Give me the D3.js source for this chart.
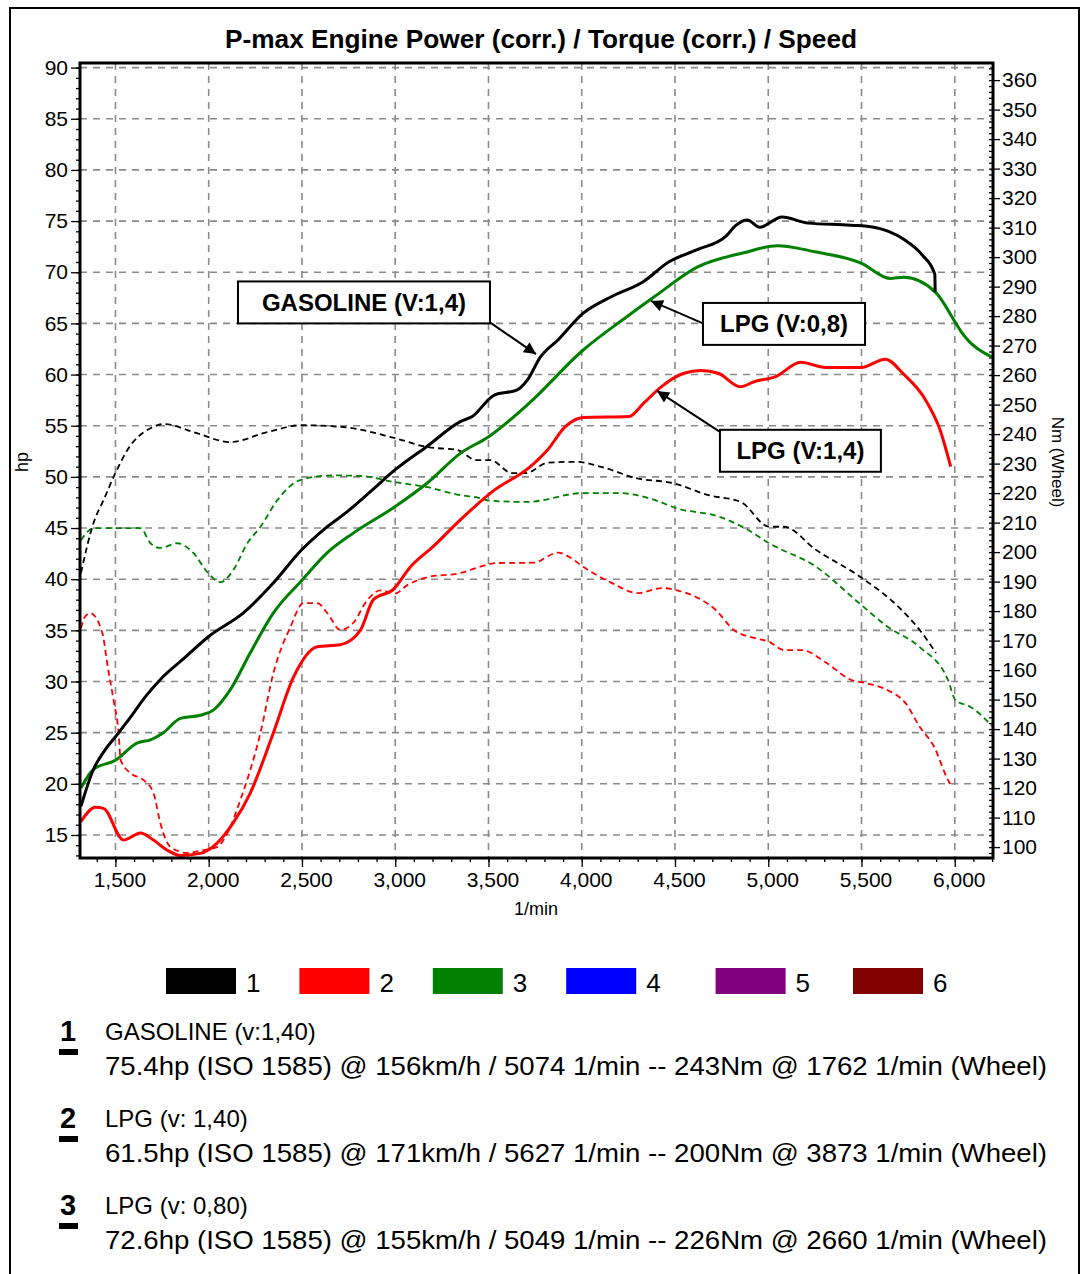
<!DOCTYPE html>
<html>
<head>
<meta charset="utf-8">
<script src="https://cdn.jsdelivr.net/npm/d3@7"></script>
<style>
  body { margin: 0; background: #fff; }
  svg { display: block; font-family: "Liberation Sans Narrow", "Arial Narrow", "Liberation Sans", Arial, sans-serif; }
</style>
</head>
<body>
<svg id="chart" width="1082" height="1274"></svg>
<script>
// Data: [rpm, value]
const gasolinePower = [[1315,17.8],[1382,21.4],[1440,23.2],[1500,24.6],[1580,26.5],[1660,28.5],[1741,30.2],[1870,32.3],[2000,34.4],[2186,36.7],[2340,39.5],[2500,42.9],[2620,44.9],[2743,46.6],[2870,48.6],[3000,50.7],[3172,53],[3349,55.4],[3413,55.9],[3531,58.0],[3654,58.5],[3710,59.5],[3778,61.7],[3874,63.4],[4008,66],[4158,67.6],[4332,69.1],[4466,71],[4619,72.2],[4772,73.5],[4828,74.6],[4887,75.1],[4955,74.4],[5074,75.4],[5214,74.8],[5442,74.6],[5566,74.4],[5728,73.2],[5825,71.7],[5893,69.8],[5895,68.1]];
const lpg14Power = [[1315,16.3],[1393,17.7],[1436,17.6],[1543,14.5],[1634,15.2],[1704,14.5],[1779,13.5],[1848,13],[1955,13.2],[2045,14.2],[2132,16.2],[2223,19.1],[2347,25],[2454,30.4],[2582,33.4],[2706,33.6],[2813,35],[2883,38],[2990,39],[3081,41.2],[3204,43.2],[3349,45.8],[3531,48.7],[3718,50.9],[3815,52.6],[3912,54.9],[4008,55.8],[4254,55.9],[4332,57.2],[4426,58.8],[4544,60.1],[4640,60.4],[4735,60.1],[4849,58.8],[4924,59.3],[5040,59.8],[5174,61.2],[5308,60.7],[5498,60.7],[5627,61.5],[5728,60],[5844,57.5],[5921,54.6],[5978,51]];
const lpg08Power = [[1315,19.6],[1382,21.4],[1500,22.3],[1618,24],[1688,24.3],[1757,25],[1848,26.4],[1955,26.7],[2025,27.2],[2116,29.2],[2223,32.8],[2347,36.7],[2500,39.9],[2636,42.6],[2775,44.5],[3000,47.1],[3172,49.4],[3349,52.3],[3499,53.9],[3718,57.2],[4008,62.4],[4238,65.6],[4389,67.6],[4619,70.5],[4868,71.9],[5049,72.6],[5251,72],[5498,70.9],[5653,69.4],[5728,69.5],[5899,68],[5996,65.3],[6034,64.2],[6200,61.7]];

const gasolineTorque = [[1315,192.9],[1382,209.8],[1436,217.6],[1500,226.8],[1564,234.6],[1688,242],[1762,243.4],[1918,240.7],[2116,237.3],[2314,240.7],[2500,243],[2721,242.4],[3000,238.6],[3172,235.6],[3333,234.6],[3434,231.2],[3510,231.2],[3626,226.8],[3703,226.8],[3816,230.3],[3971,230.6],[4104,228.9],[4298,225],[4489,223.4],[4680,219.3],[4853,217],[5005,208.6],[5083,208.6],[5257,200.7],[5503,191.2],[5697,181.5],[5812,173.6],[5899,165.8]];
const lpg14Torque = [[1315,174.2],[1336,178],[1365,179.3],[1430,172.5],[1459,161],[1490,149.8],[1517,138.6],[1528,129.5],[1582,125],[1651,122.7],[1704,118.3],[1741,108.1],[1795,100],[1886,98],[1972,99],[2045,100],[2100,104.7],[2170,116],[2277,138.6],[2347,159],[2438,174.6],[2508,182.7],[2582,182.7],[2636,179.3],[2706,173.6],[2775,176],[2850,183.7],[2920,187],[3000,186],[3065,188.8],[3172,191.5],[3349,192.9],[3434,194.6],[3547,196.3],[3740,196.4],[3873,199.8],[3932,198.4],[4008,195],[4163,189.5],[4298,186.1],[4432,187.8],[4506,187.1],[4625,184.4],[4720,180.3],[4815,173.6],[4930,170.8],[5005,169.6],[5083,166.8],[5179,166.8],[5313,162.4],[5447,156.6],[5523,155.6],[5640,153.2],[5736,148.8],[5812,140.8],[5889,134],[5964,122.7],[5985,120.4]];
const lpg08Torque = [[1315,204],[1382,208.1],[1500,208.1],[1634,208.1],[1688,203],[1741,201.4],[1832,203],[1918,199.7],[1993,193.2],[2063,189.8],[2132,193.9],[2207,203],[2277,208.5],[2368,217.6],[2491,224.4],[2660,226],[2813,225.8],[3000,223.7],[3172,222],[3349,219.3],[3434,218.6],[3510,217.4],[3703,217],[4008,220],[4201,220],[4394,217.6],[4506,214.9],[4737,212],[4892,207.5],[5005,203],[5257,195],[5487,182.7],[5640,174.7],[5812,167.8],[5964,156.6],[6004,149.8],[6082,147.6],[6205,140.8]];

const hpTicks = d3.range(15, 91, 5);
const nmTicks = d3.range(100, 361, 10);
const rpmTicks = d3.range(1500, 6001, 500);

const legendLabels = ["1", "2", "3", "4", "5", "6"];
const legendColors = ["#000000", "#ff0000", "#008000", "#0000ff", "#800080", "#800000"];

// annotation boxes: label, box corners and arrow in [rpm, hp]
const notes = [
  { text: "GASOLINE (V:1,4)", box: [2157, 69.1, 3508, 65.0], from: [3508, 65.1], to: [3755, 62.0] },
  { text: "LPG (V:0,8)", box: [4650, 67.0, 5519, 62.9], from: [4650, 65.0], to: [4371, 67.2] },
  { text: "LPG (V:1,4)", box: [4741, 54.6, 5604, 50.5], from: [4741, 54.4], to: [4404, 58.4] }
];

const runTitles = ["GASOLINE  (v:1,40)", "LPG (v: 1,40)", "LPG (v: 0,80)"];
const runDetails = [
  "75.4hp (ISO 1585) @ 156km/h / 5074 1/min -- 243Nm @ 1762 1/min (Wheel)",
  "61.5hp (ISO 1585) @ 171km/h / 5627 1/min -- 200Nm @ 3873 1/min (Wheel)",
  "72.6hp (ISO 1585) @ 155km/h / 5049 1/min -- 226Nm @ 2660 1/min (Wheel)"
];

(() => {
  const svg = d3.select("#chart");
  const mLeft = 80, mRight = 993, mTop = 63, mBottom = 858;

  // outer frame of the sheet
  svg.append("rect").attr("x", 10).attr("y", 8).attr("width", 1069).attr("height", 1290)
    .attr("fill", "#fff").attr("stroke", "#000").attr("stroke-width", 2);

  const x = d3.scaleLinear().domain([1310, 6205]).range([mLeft, mRight]);
  const yL = d3.scaleLinear().domain([12.75, 90.45]).range([mBottom, mTop]);
  const yR = d3.scaleLinear().domain([96.3, 365.8]).range([mBottom, mTop]);

  // title
  svg.append("text").attr("x", 541).attr("y", 48).attr("text-anchor", "middle")
    .attr("font-size", 25).attr("font-weight", "bold")
    .attr("textLength", 632).attr("lengthAdjust", "spacingAndGlyphs")
    .text("P-max Engine Power (corr.) / Torque (corr.) / Speed");

  // grid
  const grid = svg.append("g").attr("stroke", "#8a8a8a").attr("stroke-width", 1.6).attr("stroke-dasharray", "7,6");
  grid.selectAll(".h").data(hpTicks).join("line")
    .attr("x1", mLeft).attr("x2", mRight).attr("y1", d => yL(d)).attr("y2", d => yL(d));
  grid.selectAll(".v").data(rpmTicks).join("line")
    .attr("x1", d => x(d)).attr("x2", d => x(d)).attr("y1", mTop).attr("y2", mBottom);

  // axes
  const styleAxis = g => {
    g.select(".domain").remove();
    g.selectAll("line").attr("stroke", "#000").attr("stroke-width", 1.3);
    g.selectAll("text").attr("font-size", 21).attr("fill", "#000")
      .attr("font-family", "'Liberation Sans Narrow', 'Arial Narrow', 'Liberation Sans', Arial, sans-serif");
  };

  svg.append("g").attr("transform", `translate(${mLeft},0)`)
    .call(d3.axisLeft(yL).tickValues(d3.range(13, 91, 1)).tickSize(4).tickFormat(""))
    .call(styleAxis);
  svg.append("g").attr("transform", `translate(${mLeft},0)`)
    .call(d3.axisLeft(yL).tickValues(hpTicks).tickSize(9).tickPadding(3))
    .call(styleAxis);

  svg.append("g").attr("transform", `translate(${mRight},0)`)
    .call(d3.axisLeft(yR).tickValues(d3.range(98, 365, 2)).tickSize(4).tickFormat(""))
    .call(styleAxis);
  svg.append("g").attr("transform", `translate(${mRight},0)`)
    .call(d3.axisRight(yR).tickValues(nmTicks).tickSize(7).tickPadding(2))
    .call(styleAxis);

  svg.append("g").attr("transform", `translate(0,${mBottom})`)
    .call(d3.axisBottom(x).tickValues(d3.range(1400, 6201, 100)).tickSize(4).tickFormat(""))
    .call(styleAxis);
  svg.append("g").attr("transform", `translate(4,${mBottom})`)
    .call(d3.axisBottom(x).tickValues(rpmTicks).tickSize(0).tickPadding(14).tickFormat(d3.format(",")))
    .call(styleAxis);
  svg.append("g").attr("transform", `translate(0,${mBottom})`)
    .call(d3.axisBottom(x).tickValues(rpmTicks).tickSize(9).tickFormat(""))
    .call(styleAxis);

  // axis titles
  svg.append("text").attr("transform", "translate(28,462) rotate(-90)").attr("text-anchor", "middle")
    .attr("font-size", 18).text("hp");
  svg.append("text").attr("transform", "translate(1052,462) rotate(90)").attr("text-anchor", "middle")
    .attr("font-size", 17).text("Nm (Wheel)");
  svg.append("text").attr("x", 536).attr("y", 915).attr("text-anchor", "middle")
    .attr("font-size", 18).text("1/min");

  // curves
  const plot = svg.append("g");
  const powerLine = d3.line().x(d => x(d[0])).y(d => yL(d[1])).curve(d3.curveMonotoneX);
  const torqueLine = d3.line().x(d => x(d[0])).y(d => yR(d[1])).curve(d3.curveMonotoneX);

  const torques = [[lpg08Torque, "#008000"], [gasolineTorque, "#000"], [lpg14Torque, "#ff0000"]];
  torques.forEach(([data, color]) => {
    plot.append("path").datum(data).attr("d", torqueLine)
      .attr("fill", "none").attr("stroke", color).attr("stroke-width", 1.8).attr("stroke-dasharray", "6,4");
  });
  const powers = [[lpg14Power, "#ff0000"], [lpg08Power, "#008000"], [gasolinePower, "#000"]];
  powers.forEach(([data, color]) => {
    plot.append("path").datum(data).attr("d", powerLine)
      .attr("fill", "none").attr("stroke", color).attr("stroke-width", 3).attr("stroke-linejoin", "round");
  });

  // frame
  svg.append("rect").attr("x", mLeft).attr("y", mTop).attr("width", mRight - mLeft).attr("height", mBottom - mTop)
    .attr("fill", "none").attr("stroke", "#000").attr("stroke-width", 3);

  // annotations
  svg.append("defs").append("marker").attr("id", "arrow")
    .attr("viewBox", "0 0 10 10").attr("refX", 10).attr("refY", 5)
    .attr("markerWidth", 14).attr("markerHeight", 12).attr("markerUnits", "userSpaceOnUse")
    .attr("orient", "auto")
    .append("path").attr("d", "M0,0L10,5L0,10Z").attr("fill", "#000");

  notes.forEach(n => {
    const [r0, h0, r1, h1] = n.box;
    svg.append("line")
      .attr("x1", x(n.from[0])).attr("y1", yL(n.from[1]))
      .attr("x2", x(n.to[0])).attr("y2", yL(n.to[1]))
      .attr("stroke", "#000").attr("stroke-width", 2).attr("marker-end", "url(#arrow)");
    svg.append("rect").attr("x", x(r0)).attr("y", yL(h0))
      .attr("width", x(r1) - x(r0)).attr("height", yL(h1) - yL(h0))
      .attr("fill", "#fff").attr("stroke", "#000").attr("stroke-width", 2);
    svg.append("text").attr("x", (x(r0) + x(r1)) / 2).attr("y", (yL(h0) + yL(h1)) / 2 + 8.5)
      .attr("text-anchor", "middle").attr("font-size", 24).attr("font-weight", "bold")
      .attr("font-family", "'Liberation Sans', Arial, sans-serif")
      .text(n.text);
  });

  // legend
  const legendX = d3.scalePoint().domain(legendLabels).range([166, 853]);
  const legend = svg.append("g");
  legendLabels.forEach((lab, i) => {
    const lx = legendX(lab) - (i > 0 && i < 4 ? 4 * i : 0);
    legend.append("rect").attr("x", lx).attr("y", 968).attr("width", 70).attr("height", 26)
      .attr("fill", legendColors[i]);
    legend.append("text").attr("x", lx + 80).attr("y", 992).attr("font-size", 26).text(lab);
  });

  // run summaries
  const rowY = d3.scalePoint().domain([0, 1, 2]).range([1040, 1214]);
  runTitles.forEach((t, i) => {
    const by = rowY(i);
    svg.append("text").attr("x", 68).attr("y", by + 1).attr("text-anchor", "middle")
      .attr("font-size", 29).attr("font-weight", "bold").text(i + 1);
    svg.append("rect").attr("x", 59).attr("y", by + 9).attr("width", 19).attr("height", 6).attr("fill", "#000");
    svg.append("text").attr("x", 105).attr("y", by).attr("font-size", 24).text(t);
    svg.append("text").attr("x", 105).attr("y", by + 35).attr("font-size", 25)
      .attr("textLength", 942).attr("lengthAdjust", "spacingAndGlyphs").text(runDetails[i]);
  });
})();
</script>
</body>
</html>
